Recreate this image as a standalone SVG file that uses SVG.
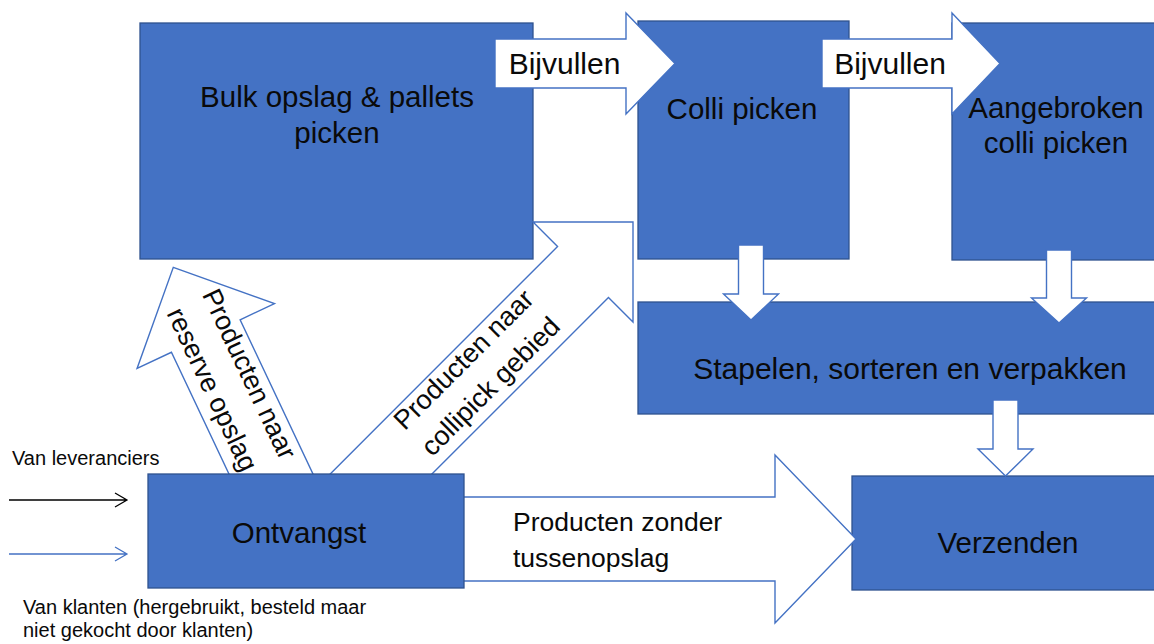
<svg xmlns="http://www.w3.org/2000/svg" width="1154" height="644" viewBox="0 0 1154 644">
<style>
.box{fill:#4472C4;stroke:#2F528F;stroke-width:1.3}
.arr{fill:#FFFFFF;stroke:#4472C4;stroke-width:1.4;stroke-linejoin:miter}
.t{font-family:"Liberation Sans",Arial,sans-serif;fill:#0a0a0a}
.big{font-size:29.5px;text-anchor:middle}
.lab{font-size:27px;text-anchor:middle}
.sm{font-size:20px}
</style>
<rect width="1154" height="644" fill="#FFFFFF"/>
<g id="bulk">
<rect class="box" x="140" y="23" width="393" height="236"/>
<text class="t big" x="337" y="107">Bulk opslag &amp; pallets</text>
<text class="t big" x="337" y="143">picken</text>
</g>
<g id="colli">
<rect class="box" x="638" y="21" width="211" height="238"/>
<text class="t big" x="742" y="119">Colli picken</text>
</g>
<g id="aangebroken">
<rect class="box" x="952" y="23" width="220" height="237"/>
<text class="t big" x="1056" y="118">Aangebroken</text>
<text class="t big" x="1056" y="153">colli picken</text>
</g>
<g id="stapelen">
<rect class="box" x="638" y="302" width="540" height="112"/>
<text class="t big" x="910" y="379" style="font-size:30px">Stapelen, sorteren en verpakken</text>
</g>
<g id="verzenden">
<rect class="box" x="852" y="476" width="320" height="114"/>
<text class="t big" x="1008" y="553">Verzenden</text>
</g>
<g id="connectors">
<polygon class="arr" points="495,39 626,39 626,13 675,63.5 626,114 626,88 495,88"/>
<text class="t big" x="564.5" y="74" style="font-size:30px">Bijvullen</text>
<polygon class="arr" points="822,39 952,39 952,13 1000,63.5 952,114 952,88 822,88"/>
<text class="t big" x="890" y="74" style="font-size:30px">Bijvullen</text>
<polygon class="arr" points="738.5,245 763.5,245 763.5,294 778.5,294 751,320 723.5,294 738.5,294"/>
<polygon class="arr" points="1046.5,250 1071.5,250 1071.5,298 1086.5,298 1059,323 1031.5,298 1046.5,298"/>
<polygon class="arr" points="993,400 1018,400 1018,449 1033,449 1005.5,476 978,449 993,449"/>
<polygon class="arr" points="440,497 775,497 775,455 856,539 775,623 775,581 440,581"/>
<text class="t" x="513" y="531" style="font-size:26.5px">Producten zonder</text>
<text class="t" x="513" y="567" style="font-size:26.5px">tussenopslag</text>
<g transform="translate(173.3,267.3) rotate(-25.3)">
<polygon class="arr" points="0,0 76,76 38,76 38,255 -38,255 -38,76 -76,76"/>
<text class="t lab" transform="translate(14,129) rotate(90)">Producten naar</text>
<text class="t lab" transform="translate(-26,127) rotate(90)">reserve opslag</text>
</g>
<g transform="translate(633,222) rotate(45)">
<polygon class="arr" points="0,0 70.7,70.7 36,70.7 36,400 -36,400 -36,70.7 -70.7,70.7"/>
<text class="t lab" transform="translate(-13.5,217) rotate(-90)">Producten naar</text>
<text class="t lab" transform="translate(24.5,217) rotate(-90)">collipick gebied</text>
</g>
<path d="M9,500 H127 M115,493 L127,500 L115,507" fill="none" stroke="#000000" stroke-width="1.3"/>
<path d="M9,554 H127 M115,547 L127,554 L115,561" fill="none" stroke="#4472C4" stroke-width="1.3"/>
</g>
<g id="ontvangst">
<rect class="box" x="148" y="474" width="316" height="114"/>
<text class="t big" x="299" y="543">Ontvangst</text>
</g>
<g id="notes">
<text class="t sm" x="12" y="465">Van leveranciers</text>
<text class="t sm" x="23" y="614">Van klanten (hergebruikt, besteld maar</text>
<text class="t sm" x="23" y="637">niet gekocht door klanten)</text>
</g>
</svg>
